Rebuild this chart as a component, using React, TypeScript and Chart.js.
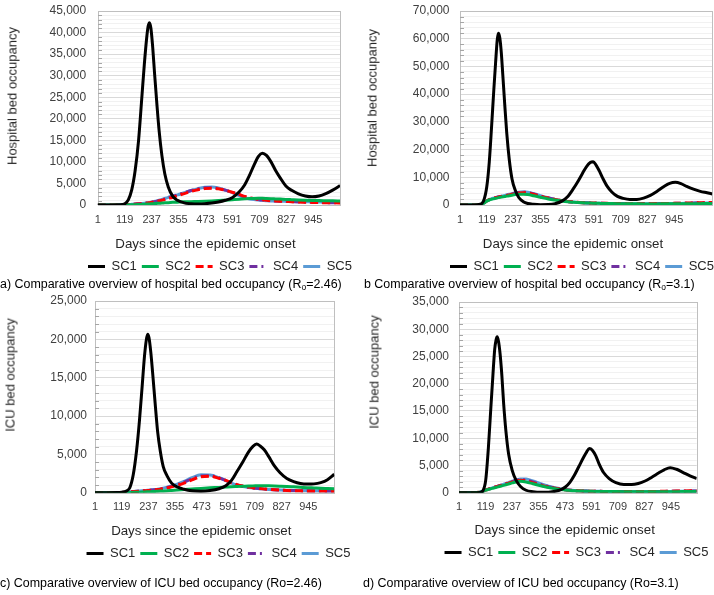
import React, { useEffect, useRef } from 'react';
import { Chart, registerables } from 'chart.js';

Chart.register(...registerables);

const FONT = "'Liberation Sans', Arial, Helvetica, sans-serif";

// ---------- shared ----------
const SERIES_NAMES = ['SC1', 'SC2', 'SC3', 'SC4', 'SC5'];
const X_TICKS = [1, 119, 237, 355, 473, 591, 709, 827, 945];

// ---------- panel a : hospital beds, Ro = 2.46 ----------
const DAYS_A = [1, 60, 100, 120, 135, 150, 165, 180, 195, 205, 215, 222, 228, 234, 242, 250, 260, 270, 282, 295, 310, 330, 350, 380, 410, 440, 470, 500, 530, 560, 590, 620, 645, 665, 685, 705, 722, 740, 760, 780, 800, 825, 850, 880, 910, 940, 970, 1000, 1030, 1062];
const A_SC1 = [0, 0, 30, 300, 1200, 3500, 8000, 15000, 25500, 32500, 38500, 41500, 42300, 41000, 36500, 30500, 23500, 17200, 11500, 7200, 4200, 2000, 1100, 500, 300, 250, 300, 450, 700, 1100, 1700, 3000, 4700, 6800, 9200, 11300, 12000, 11500, 10000, 8000, 6300, 4400, 3400, 2600, 2100, 1900, 2100, 2650, 3450, 4500];
const A_SC2 = [0, 0, 0, 10, 30, 50, 80, 110, 150, 180, 210, 230, 250, 270, 300, 330, 370, 410, 450, 500, 550, 610, 660, 730, 780, 820, 880, 950, 1030, 1130, 1230, 1330, 1420, 1480, 1530, 1550, 1540, 1510, 1470, 1420, 1370, 1300, 1240, 1170, 1110, 1060, 1020, 990, 960, 930];
const A_SC3 = [0, 0, 20, 60, 100, 150, 200, 250, 320, 370, 430, 480, 520, 570, 640, 720, 830, 950, 1100, 1280, 1500, 1800, 2150, 2650, 3150, 3550, 3800, 3870, 3750, 3400, 2950, 2450, 2000, 1700, 1480, 1320, 1200, 1100, 1020, 950, 890, 830, 780, 700, 650, 600, 560, 530, 510, 490];
const A_SC4 = [0, 0, 20, 60, 100, 155, 210, 270, 340, 400, 460, 510, 560, 610, 690, 770, 890, 1020, 1190, 1390, 1630, 1970, 2320, 2850, 3350, 3750, 3980, 4020, 3850, 3450, 2950, 2400, 1900, 1600, 1400, 1260, 1150, 1060, 990, 930, 870, 820, 770, 710, 660, 620, 585, 550, 525, 500];
const A_SC5 = [0, 0, 20, 60, 100, 160, 220, 290, 370, 430, 500, 560, 610, 670, 750, 840, 960, 1100, 1300, 1520, 1780, 2150, 2350, 2850, 3350, 3800, 4120, 4180, 3950, 3450, 2850, 2200, 1650, 1400, 1250, 1150, 1080, 1000, 950, 920, 880, 850, 820, 790, 760, 740, 710, 680, 650, 620];

// ---------- panel b : hospital beds, Ro = 3.1 ----------
const DAYS_B = [1, 60, 90, 105, 119, 130, 140, 150, 158, 165, 170, 176, 183, 190, 198, 207, 218, 230, 245, 260, 280, 300, 325, 355, 390, 420, 450, 475, 500, 520, 540, 558, 575, 588, 600, 615, 630, 650, 670, 695, 720, 750, 780, 810, 840, 870, 900, 925, 950, 975, 1000, 1030, 1060, 1090, 1113];
const B_SC1 = [0, 0, 250, 1500, 6600, 15500, 28000, 41500, 51500, 59500, 62000, 60500, 55000, 46500, 36500, 26000, 16500, 9500, 5200, 2700, 1200, 550, 250, 100, 150, 450, 1400, 3000, 5800, 8400, 11300, 13800, 15300, 15600, 14500, 12300, 9700, 6700, 4700, 3100, 2400, 2000, 2000, 2500, 3500, 5000, 6700, 7800, 8200, 7700, 6700, 5700, 4900, 4400, 4000];
const B_SC2 = [0, 0, 100, 650, 1400, 1800, 2050, 2250, 2400, 2550, 2650, 2750, 2850, 2950, 3050, 3200, 3350, 3550, 3750, 3880, 3900, 3750, 3350, 2800, 2200, 1800, 1450, 1200, 1020, 900, 800, 730, 680, 650, 620, 590, 560, 530, 500, 470, 450, 430, 410, 400, 400, 400, 410, 420, 430, 440, 450, 470, 490, 510, 520];
const B_SC3 = [0, 0, 100, 700, 1500, 1900, 2200, 2450, 2600, 2750, 2850, 2950, 3050, 3150, 3300, 3450, 3650, 3850, 4100, 4300, 4450, 4300, 3850, 3200, 2500, 2000, 1600, 1300, 1100, 950, 850, 780, 730, 700, 680, 650, 620, 590, 560, 530, 500, 480, 470, 470, 480, 500, 530, 560, 600, 640, 690, 750, 800, 850, 880];
const B_SC4 = [0, 0, 100, 700, 1500, 1920, 2220, 2470, 2650, 2800, 2900, 3000, 3120, 3220, 3370, 3550, 3750, 3970, 4250, 4480, 4600, 4480, 4000, 3300, 2550, 2000, 1580, 1280, 1080, 940, 840, 770, 720, 690, 660, 630, 600, 570, 540, 510, 490, 470, 460, 460, 470, 490, 520, 550, 590, 630, 680, 740, 790, 840, 870];
const B_SC5 = [0, 0, 100, 700, 1500, 1950, 2250, 2500, 2700, 2850, 2950, 3050, 3200, 3300, 3450, 3650, 3850, 4100, 4400, 4650, 4800, 4650, 4150, 3400, 2600, 2000, 1550, 1250, 1050, 920, 820, 750, 700, 670, 640, 610, 580, 550, 520, 490, 470, 450, 440, 440, 450, 470, 490, 510, 540, 570, 600, 640, 680, 720, 750];

// ---------- panel c : ICU beds, Ro = 2.46 ----------
const DAYS_C = [1, 60, 100, 120, 140, 155, 170, 185, 198, 210, 220, 228, 234, 240, 248, 257, 267, 278, 290, 303, 320, 340, 365, 395, 430, 470, 510, 550, 580, 605, 630, 655, 680, 700, 716, 732, 750, 770, 795, 820, 850, 880, 910, 940, 970, 1000, 1030, 1060];
const C_SC1 = [0, 0, 10, 60, 230, 650, 2300, 5500, 9500, 14000, 17800, 19900, 20650, 20200, 18300, 15300, 11700, 8000, 5400, 3400, 2200, 1250, 750, 450, 250, 200, 280, 520, 900, 1600, 2800, 4000, 5300, 6050, 6350, 6100, 5600, 4700, 3500, 2600, 1850, 1450, 1200, 1120, 1150, 1320, 1700, 2400];
const C_SC2 = [0, 0, 0, 5, 15, 25, 40, 55, 70, 85, 100, 110, 120, 130, 140, 155, 170, 190, 210, 230, 260, 300, 350, 410, 480, 560, 630, 690, 740, 780, 810, 840, 870, 890, 900, 910, 910, 900, 880, 850, 810, 760, 710, 660, 620, 580, 550, 520];
const C_SC3 = [0, 0, 10, 40, 80, 110, 140, 170, 200, 230, 250, 265, 280, 295, 315, 340, 370, 410, 460, 530, 620, 760, 960, 1250, 1680, 2080, 2150, 1880, 1600, 1300, 1050, 870, 740, 650, 590, 540, 490, 440, 380, 330, 290, 260, 240, 230, 220, 215, 210, 205];
const C_SC4 = [0, 0, 10, 40, 80, 110, 145, 180, 210, 240, 265, 285, 300, 315, 340, 365, 395, 430, 490, 565, 670, 820, 1040, 1370, 1820, 2170, 2210, 1930, 1590, 1280, 1010, 830, 710, 625, 570, 520, 475, 430, 380, 340, 305, 280, 265, 255, 245, 240, 235, 230];
const C_SC5 = [0, 0, 10, 40, 80, 110, 150, 190, 220, 250, 280, 300, 320, 335, 360, 390, 420, 460, 520, 600, 720, 880, 1120, 1480, 1950, 2330, 2300, 1950, 1580, 1250, 980, 800, 680, 600, 550, 500, 460, 420, 380, 350, 320, 300, 290, 280, 270, 265, 260, 255];

// ---------- panel d : ICU beds, Ro = 3.1 ----------
const DAYS_D = [1, 60, 95, 108, 120, 132, 142, 152, 160, 166, 171, 177, 184, 192, 200, 210, 222, 238, 255, 275, 300, 330, 365, 400, 430, 455, 475, 495, 515, 535, 555, 570, 582, 595, 610, 625, 645, 670, 700, 735, 770, 800, 830, 860, 890, 915, 942, 970, 1000, 1030, 1060];
const D_SC1 = [0, 0, 50, 400, 2300, 8300, 15000, 21500, 26300, 28000, 28600, 27800, 25500, 21500, 16300, 11300, 7100, 4100, 2300, 1150, 450, 180, 60, 90, 250, 550, 1050, 1900, 3200, 4800, 6400, 7500, 8100, 7800, 6800, 5300, 3700, 2600, 1850, 1500, 1500, 1700, 2150, 2850, 3600, 4200, 4600, 4300, 3700, 3100, 2600];
const D_SC2 = [0, 0, 90, 280, 460, 600, 720, 830, 920, 980, 1030, 1100, 1170, 1260, 1350, 1460, 1600, 1800, 1980, 2080, 1970, 1650, 1270, 950, 740, 590, 490, 420, 360, 320, 290, 270, 260, 250, 240, 230, 220, 210, 200, 190, 180, 175, 175, 175, 180, 185, 190, 195, 200, 210, 220];
const D_SC3 = [0, 0, 100, 300, 500, 650, 780, 900, 1000, 1070, 1130, 1200, 1280, 1380, 1480, 1600, 1750, 1950, 2150, 2280, 2150, 1800, 1380, 1030, 800, 630, 520, 440, 380, 340, 310, 290, 280, 270, 260, 250, 240, 230, 220, 210, 200, 200, 210, 220, 240, 260, 280, 300, 320, 340, 360];
const D_SC4 = [0, 0, 100, 300, 500, 655, 790, 915, 1015, 1090, 1150, 1225, 1310, 1410, 1515, 1645, 1805, 2025, 2240, 2400, 2320, 1970, 1510, 1110, 850, 660, 545, 460, 395, 350, 315, 295, 282, 270, 258, 248, 238, 228, 218, 208, 200, 200, 208, 215, 230, 245, 260, 278, 295, 312, 330];
const D_SC5 = [0, 0, 100, 300, 500, 660, 800, 930, 1030, 1110, 1170, 1250, 1340, 1440, 1550, 1690, 1860, 2100, 2330, 2530, 2500, 2150, 1650, 1200, 900, 700, 570, 480, 410, 360, 320, 300, 285, 270, 255, 245, 235, 225, 215, 205, 200, 200, 205, 210, 220, 230, 240, 255, 270, 285, 300];

// ---------- styling ----------
const LINE_COLORS = ['#000000', '#00b050', '#ff0000', '#7030a0', '#5b9bd5'];
const LINE_DASHES: number[][] = [[], [], [8, 4], [8, 4, 2, 4], []];
const TICK_COLOR = '#404040';
const TEXT_COLOR = '#262626';
const LEGEND_PAD = 5;
const TOP_PAD = 22;

type Panel = {
  key: string;
  days: number[];
  series: number[][];
  xMax: number;
  yMax: number;
  major: number;
  minor: number;
  cx: number;
  plotL: number; plotR: number; plotT: number; plotB: number;
  legendCenter: number; legendY: number;
  yTickPad: number;
  yTitle: string; yTitleX: number; yTitleY: number;
  xTitleX: number; xTitleY: number;
  caption: React.ReactNode; capX: number; capY: number;
};

const sub = (t: string) => (
  <span style={{ fontSize: '0.68em', verticalAlign: '-0.3em', lineHeight: 0 }}>{t}</span>
);

const PANELS: Panel[] = [
  {
    key: 'a', days: DAYS_A, series: [A_SC1, A_SC2, A_SC3, A_SC4, A_SC5],
    xMax: 1062, yMax: 45000, major: 5000, minor: 1000,
    cx: 0,
    plotL: 97.7, plotR: 340, plotT: 11, plotB: 205,
    legendCenter: 220, legendY: 266, yTickPad: 11.5,
    yTitle: 'Hospital bed occupancy', yTitleX: 11.5, yTitleY: 96,
    xTitleX: 205.5, xTitleY: 244,
    caption: <>a) Comparative overview of hospital bed occupancy (R{sub('o')}=2.46)</>, capX: 0, capY: 284,
  },
  {
    key: 'b', days: DAYS_B, series: [B_SC1, B_SC2, B_SC3, B_SC4, B_SC5],
    xMax: 1113, yMax: 70000, major: 10000, minor: 2000,
    cx: 360,
    plotL: 460, plotR: 712.3, plotT: 11, plotB: 205,
    legendCenter: 582, legendY: 266, yTickPad: 10.5,
    yTitle: 'Hospital bed occupancy', yTitleX: 372, yTitleY: 98,
    xTitleX: 573, xTitleY: 244,
    caption: <>b Comparative overview of hospital bed occupancy (R{sub('o')}=3.1)</>, capX: 364, capY: 284,
  },
  {
    key: 'c', days: DAYS_C, series: [C_SC1, C_SC2, C_SC3, C_SC4, C_SC5],
    xMax: 1060, yMax: 25000, major: 5000, minor: 1000,
    cx: 0,
    plotL: 95, plotR: 334.3, plotT: 301, plotB: 492.7,
    legendCenter: 218.5, legendY: 553.3, yTickPad: 8,
    yTitle: 'ICU bed occupancy', yTitleX: 10, yTitleY: 375,
    xTitleX: 201.3, xTitleY: 531,
    caption: <>c) Comparative overview of ICU bed occupancy (Ro=2.46)</>, capX: 0, capY: 583,
  },
  {
    key: 'd', days: DAYS_D, series: [D_SC1, D_SC2, D_SC3, D_SC4, D_SC5],
    xMax: 1060, yMax: 35000, major: 5000, minor: 1000,
    cx: 360,
    plotL: 459, plotR: 696.7, plotT: 302, plotB: 492.7,
    legendCenter: 576.7, legendY: 552.3, yTickPad: 10,
    yTitle: 'ICU bed occupancy', yTitleX: 373.7, yTitleY: 372,
    xTitleX: 564.7, xTitleY: 530,
    caption: <>d) Comparative overview of ICU bed occupancy (Ro=3.1)</>, capX: 363, capY: 583,
  },
];

// plot-area frame plus small inside minor tick marks on the value axis
const plotFrame = {
  id: 'plotFrame',
  beforeDatasetsDraw(chart: any) {
    const { ctx, chartArea: a } = chart;
    const yScale = chart.scales.y;
    const major = chart.options.plugins.plotFrame?.major || 1;
    ctx.save();
    ctx.strokeStyle = '#bfbfbf';
    ctx.lineWidth = 1;
    ctx.strokeRect(Math.round(a.left) + 0.5, Math.round(a.top) + 0.5, Math.round(a.right - a.left), Math.round(a.bottom - a.top));
    ctx.strokeStyle = '#a6a6a6';
    ctx.beginPath();
    yScale.ticks.forEach((t: any) => {
      if (t.value % major === 0) return;
      const y = Math.round(yScale.getPixelForValue(t.value)) + 0.5;
      ctx.moveTo(Math.round(a.left), y);
      ctx.lineTo(Math.round(a.left) + 4, y);
    });
    ctx.stroke();
    ctx.restore();
  },
};

function geometry(p: Panel) {
  const cy = p.plotT - TOP_PAD;
  const ch = Math.round(p.legendY - cy + 16.5);
  const cw = Math.round(2 * (p.legendCenter - p.cx));
  return { cy, ch, cw };
}

function makeConfig(p: Panel): any {
  const { cy, ch, cw } = geometry(p);
  const yW = p.plotL - p.cx;
  const legendH = 13 + LEGEND_PAD + 10;
  const xH = ch - legendH - (p.plotB - cy);
  const rW = cw - (p.plotR - p.cx);
  const yTicks: number[] = [];
  for (let v = 0; v <= p.yMax; v += p.minor) yTicks.push(v);

  return {
    type: 'line',
    data: {
      datasets: p.series.map((vals, i) => ({
        label: SERIES_NAMES[i],
        data: p.days.map((d, k) => ({ x: d, y: vals[k] })),
        borderColor: LINE_COLORS[i],
        backgroundColor: LINE_COLORS[i],
        borderWidth: 3,
        borderDash: LINE_DASHES[i],
        borderCapStyle: 'butt',
        borderJoinStyle: 'round',
        pointRadius: 0,
        pointHoverRadius: 0,
        cubicInterpolationMode: 'monotone',
        fill: false,
      })),
    },
    options: {
      responsive: false,
      maintainAspectRatio: false,
      animation: false,
      devicePixelRatio: 1,
      layout: { padding: { left: 0, top: TOP_PAD, right: 0, bottom: 0 } },
      plugins: {
        plotFrame: { major: p.major },
        legend: {
          position: 'bottom',
          align: 'center',
          labels: {
            usePointStyle: true,
            pointStyle: 'line',
            pointStyleWidth: 17,
            padding: LEGEND_PAD,
            color: TEXT_COLOR,
            font: { family: FONT, size: 13 },
            generateLabels: (chart: any) => {
              const items = Chart.defaults.plugins.legend.labels.generateLabels(chart);
              items.forEach((it: any) => {
                const ds = chart.data.datasets[it.datasetIndex];
                it.lineDash = ds.borderDash;
                it.lineWidth = 3;
                it.strokeStyle = ds.borderColor;
                it.lineCap = 'butt';
              });
              return items;
            },
          },
        },
        tooltip: { enabled: false },
        title: { display: false },
      },
      scales: {
        x: {
          type: 'linear',
          min: 1,
          max: p.xMax,
          afterBuildTicks: (s: any) => { s.ticks = X_TICKS.map((v) => ({ value: v })); },
          afterFit: (s: any) => { s.height = xH; },
          grid: { display: false, drawTicks: false },
          border: { display: false },
          ticks: {
            autoSkip: false,
            maxRotation: 0,
            padding: 8,
            color: TICK_COLOR,
            font: { family: FONT, size: 11 },
            callback: (v: any) => String(v),
          },
        },
        y: {
          type: 'linear',
          min: 0,
          max: p.yMax,
          afterBuildTicks: (s: any) => { s.ticks = yTicks.map((v) => ({ value: v })); },
          afterFit: (s: any) => { s.width = yW; },
          grid: {
            drawTicks: false,
            lineWidth: 1,
            color: (c: any) => (c.tick && c.tick.value % p.major === 0 ? '#d9d9d9' : '#f1f1f1'),
          },
          border: { display: false },
          ticks: {
            autoSkip: false,
            padding: p.yTickPad,
            color: TICK_COLOR,
            font: { family: FONT, size: 12 },
            callback: (v: any) => (v % p.major === 0 ? Number(v).toLocaleString('en-US') : ''),
          },
        },
        y2: {
          type: 'linear',
          position: 'right',
          display: true,
          afterFit: (s: any) => { s.width = rW; },
          grid: { display: false, drawTicks: false },
          border: { display: false },
          ticks: { display: false },
        },
      },
    },
    plugins: [plotFrame],
  };
}

function PanelChart({ p }: { p: Panel }) {
  const ref = useRef<HTMLCanvasElement>(null);
  useEffect(() => {
    const chart = new Chart(ref.current as HTMLCanvasElement, makeConfig(p));
    return () => chart.destroy();
  }, [p]);
  const { cy, ch, cw } = geometry(p);
  return (
    <canvas
      ref={ref}
      width={cw}
      height={ch}
      style={{ position: 'absolute', left: p.cx, top: cy, width: cw, height: ch }}
    />
  );
}

const label = (x: number, y: number, extra: React.CSSProperties = {}) => ({
  position: 'absolute' as const,
  left: x,
  top: y,
  lineHeight: 1,
  whiteSpace: 'nowrap' as const,
  fontFamily: FONT,
  ...extra,
});

export default function App() {
  return (
    <div
      style={{
        position: 'absolute', left: 0, top: 0, width: 714, height: 595,
        overflow: 'hidden', background: '#ffffff', fontFamily: FONT,
      }}
    >
      {PANELS.map((p) => (
        <React.Fragment key={p.key}>
          <PanelChart p={p} />
          <div style={label(p.yTitleX, p.yTitleY, { fontSize: 13, color: TEXT_COLOR, transform: 'translate(-50%, -50%) rotate(-90deg)' })}>
            {p.yTitle}
          </div>
          <div style={label(p.xTitleX, p.xTitleY, { fontSize: 13.3, color: TEXT_COLOR, transform: 'translate(-50%, -50%)' })}>
            Days since the epidemic onset
          </div>
          <div style={label(p.capX, p.capY, { fontSize: 12.45, color: '#000000', transform: 'translateY(-50%)' })}>
            {p.caption}
          </div>
        </React.Fragment>
      ))}
    </div>
  );
}
